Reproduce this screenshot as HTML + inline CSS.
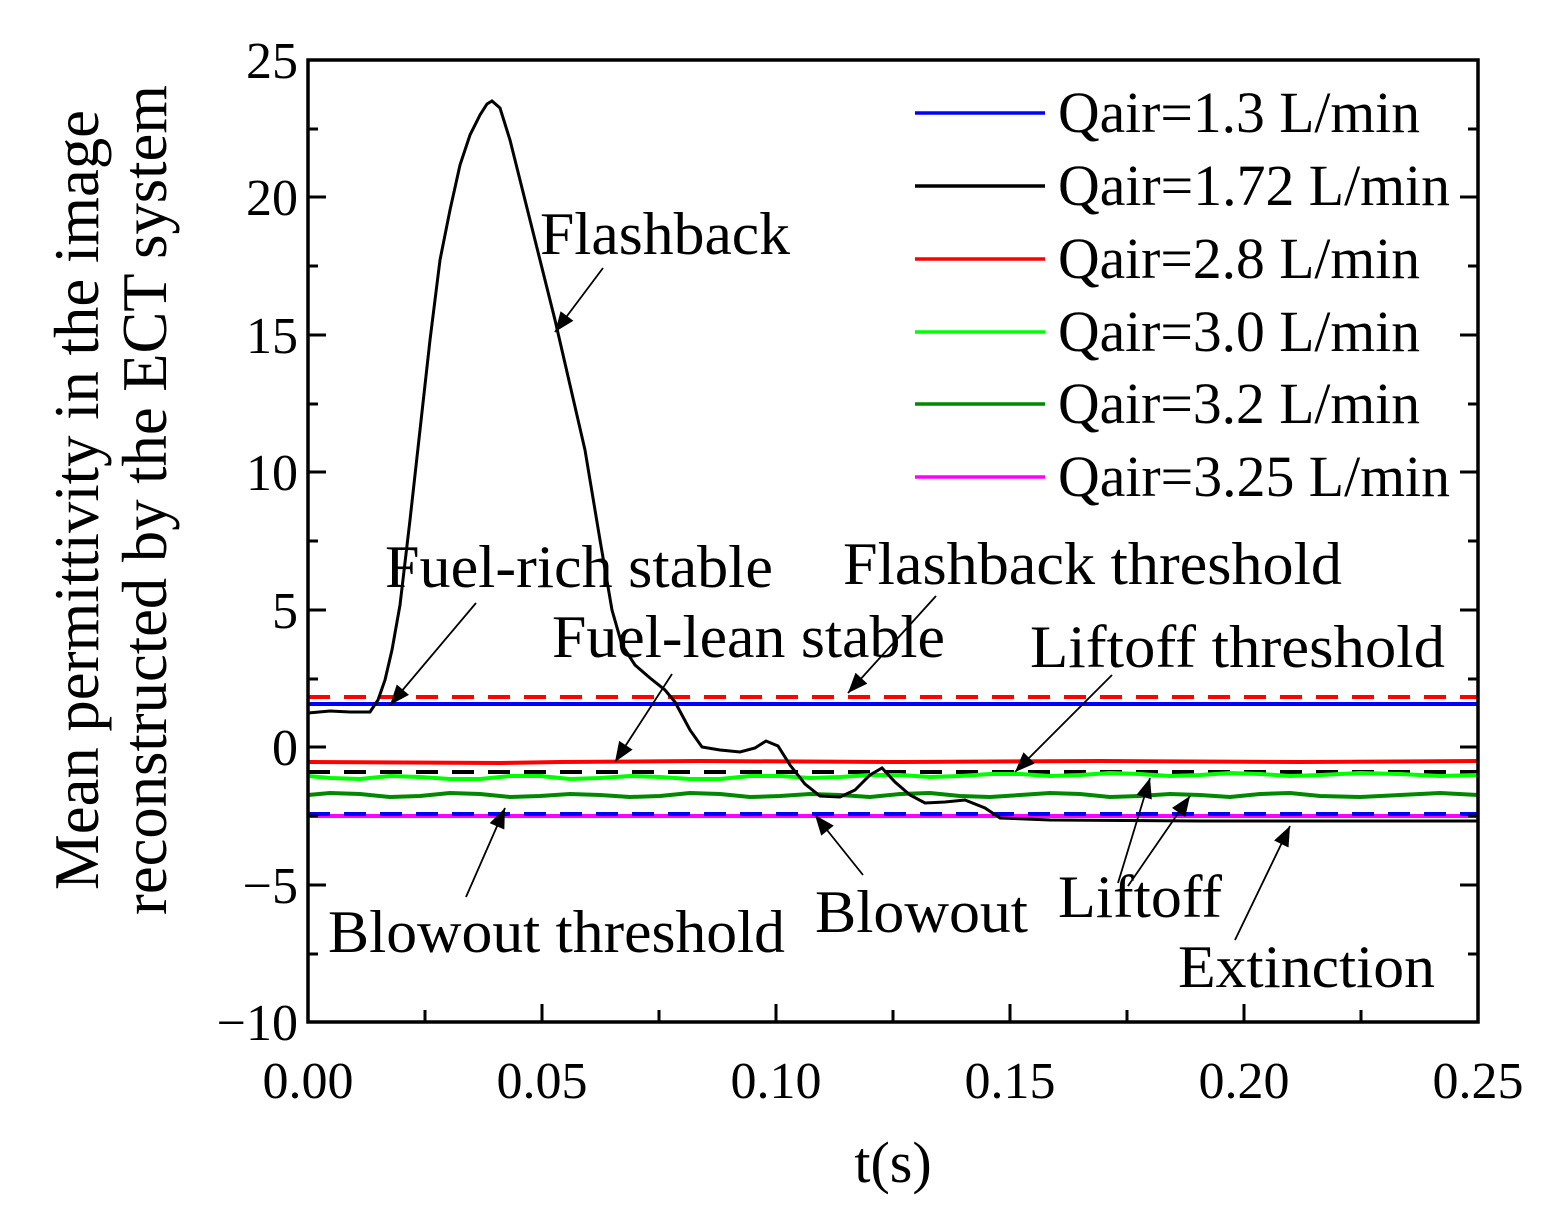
<!DOCTYPE html>
<html><head><style>body{margin:0;background:#fff}svg{display:block}text{font-family:"Liberation Serif",serif;fill:#000}</style></head><body>
<svg width="1550" height="1214" viewBox="0 0 1550 1214" xmlns="http://www.w3.org/2000/svg">
<defs>
<marker id="ahb" viewBox="0 0 10 8" markerWidth="22" markerHeight="16" refX="10" refY="4" orient="auto" markerUnits="userSpaceOnUse"><path d="M0,0 L10,4 L0,8 z" fill="#000"/></marker></defs>
<g fill="none" stroke-width="4">
<line x1="308" y1="697" x2="1478" y2="697" stroke="#f00" stroke-dasharray="22,14"/>
<line x1="308" y1="704" x2="1478" y2="704" stroke="#00f"/>
<polyline stroke="#f00" points="308,762 500,763 560,762 700,761 900,762 1100,761 1300,762 1478,761"/>
<line x1="308" y1="772" x2="1478" y2="772" stroke="#000" stroke-dasharray="22,14"/>
<polyline stroke="#0f0" points="308,776 330,778 360,779 390,776 420,777 450,779 480,779 510,776 540,776 570,779 600,778 630,776 660,777 690,779 720,779 750,776 780,776 810,778 840,777 870,775 900,775 930,777 960,776 990,774 1020,774 1050,776 1080,775 1110,773 1140,774 1170,776 1200,775 1230,773 1260,774 1290,776 1320,775 1360,773 1400,774 1440,776 1478,775"/>
<polyline stroke="#080" points="308,795 330,793 360,794 390,797 420,796 450,793 480,794 510,797 540,796 570,794 600,795 630,797 660,796 690,793 720,794 750,797 780,796 810,794 840,795 870,797 900,794 930,793 960,796 990,797 1020,795 1050,793 1080,794 1110,797 1140,796 1170,794 1200,795 1230,797 1260,794 1290,793 1320,796 1360,797 1400,795 1440,793 1478,795"/>
<line x1="308" y1="816" x2="1478" y2="816" stroke="#f0f"/>
<line x1="308" y1="814" x2="1478" y2="814" stroke="#00f" stroke-dasharray="22,14"/>
<polyline stroke="#000" stroke-width="3" points="308,713 330,711 350,712 370,712 378,700 385,680 392,650 400,605 410,520 420,430 430,340 440,260 450,210 460,165 470,135 480,115 487,104 492,101 500,108 510,140 520,180 530,220 540,260 555,320 570,385 585,450 600,540 612,610 622,645 635,665 650,678 665,690 675,702 690,730 702,747 720,750 740,752 755,748 766,741 778,746 790,765 805,784 820,796 840,797 855,790 870,775 882,768 895,782 910,795 925,803 945,802 965,800 985,808 1000,818 1050,820 1200,821 1478,821"/>
</g>
<rect x="308" y="60" width="1170" height="962" fill="none" stroke="#000" stroke-width="3.5"/>
<g stroke="#000" stroke-width="3">
<line x1="308" y1="60" x2="326" y2="60"/><line x1="308" y1="197" x2="326" y2="197"/><line x1="308" y1="335" x2="326" y2="335"/><line x1="308" y1="472" x2="326" y2="472"/><line x1="308" y1="610" x2="326" y2="610"/><line x1="308" y1="747" x2="326" y2="747"/><line x1="308" y1="885" x2="326" y2="885"/>
<line x1="308" y1="129" x2="318" y2="129"/><line x1="308" y1="266" x2="318" y2="266"/><line x1="308" y1="404" x2="318" y2="404"/><line x1="308" y1="541" x2="318" y2="541"/><line x1="308" y1="679" x2="318" y2="679"/><line x1="308" y1="816" x2="318" y2="816"/><line x1="308" y1="954" x2="318" y2="954"/>
<line x1="1478" y1="60" x2="1460" y2="60"/><line x1="1478" y1="197" x2="1460" y2="197"/><line x1="1478" y1="335" x2="1460" y2="335"/><line x1="1478" y1="472" x2="1460" y2="472"/><line x1="1478" y1="610" x2="1460" y2="610"/><line x1="1478" y1="747" x2="1460" y2="747"/><line x1="1478" y1="885" x2="1460" y2="885"/>
<line x1="1478" y1="129" x2="1468" y2="129"/><line x1="1478" y1="266" x2="1468" y2="266"/><line x1="1478" y1="404" x2="1468" y2="404"/><line x1="1478" y1="541" x2="1468" y2="541"/><line x1="1478" y1="679" x2="1468" y2="679"/><line x1="1478" y1="816" x2="1468" y2="816"/><line x1="1478" y1="954" x2="1468" y2="954"/>
<line x1="542" y1="1022" x2="542" y2="1004"/><line x1="776" y1="1022" x2="776" y2="1004"/><line x1="1010" y1="1022" x2="1010" y2="1004"/><line x1="1244" y1="1022" x2="1244" y2="1004"/>
<line x1="425" y1="1022" x2="425" y2="1010"/><line x1="659" y1="1022" x2="659" y2="1010"/><line x1="893" y1="1022" x2="893" y2="1010"/><line x1="1127" y1="1022" x2="1127" y2="1010"/><line x1="1361" y1="1022" x2="1361" y2="1010"/>
</g>
<g font-size="52" text-anchor="end">
<text x="298" y="78">25</text><text x="298" y="215">20</text><text x="298" y="353">15</text><text x="298" y="490">10</text><text x="298" y="628">5</text><text x="298" y="765">0</text><text x="298" y="903">−5</text><text x="298" y="1040">−10</text>
</g>
<g font-size="52" text-anchor="middle">
<text x="308" y="1098">0.00</text><text x="542" y="1098">0.05</text><text x="776" y="1098">0.10</text><text x="1010" y="1098">0.15</text><text x="1244" y="1098">0.20</text><text x="1478" y="1098">0.25</text>
<text x="893" y="1182" font-size="58">t(s)</text>
<text transform="translate(98,500) rotate(-90)" font-size="64" textLength="780" lengthAdjust="spacingAndGlyphs">Mean permittivity in the image</text>
<text transform="translate(166,500) rotate(-90)" font-size="64" textLength="830" lengthAdjust="spacingAndGlyphs">reconstructed by the ECT system</text>
</g>
<g stroke-width="3.5">
<line x1="915" y1="113" x2="1045" y2="113" stroke="#00f"/>
<line x1="915" y1="186" x2="1045" y2="186" stroke="#000"/>
<line x1="915" y1="259" x2="1045" y2="259" stroke="#f00"/>
<line x1="915" y1="332" x2="1045" y2="332" stroke="#0f0"/>
<line x1="915" y1="404" x2="1045" y2="404" stroke="#080"/>
<line x1="915" y1="477" x2="1045" y2="477" stroke="#f0f"/>
</g>
<g font-size="58">
<text x="1058" y="132" textLength="362" lengthAdjust="spacingAndGlyphs">Qair=1.3 L/min</text>
<text x="1058" y="205" textLength="392" lengthAdjust="spacingAndGlyphs">Qair=1.72 L/min</text>
<text x="1058" y="278" textLength="362" lengthAdjust="spacingAndGlyphs">Qair=2.8 L/min</text>
<text x="1058" y="351" textLength="362" lengthAdjust="spacingAndGlyphs">Qair=3.0 L/min</text>
<text x="1058" y="423" textLength="362" lengthAdjust="spacingAndGlyphs">Qair=3.2 L/min</text>
<text x="1058" y="496" textLength="392" lengthAdjust="spacingAndGlyphs">Qair=3.25 L/min</text>
</g>
<g font-size="60">
<text x="540" y="254" textLength="250" lengthAdjust="spacingAndGlyphs">Flashback</text>
<text x="385" y="587" textLength="388" lengthAdjust="spacingAndGlyphs">Fuel-rich stable</text>
<text x="843" y="584" textLength="499" lengthAdjust="spacingAndGlyphs">Flashback threshold</text>
<text x="552" y="657" textLength="393" lengthAdjust="spacingAndGlyphs">Fuel-lean stable</text>
<text x="1030" y="667" textLength="415" lengthAdjust="spacingAndGlyphs">Liftoff threshold</text>
<text x="328" y="952" textLength="457" lengthAdjust="spacingAndGlyphs">Blowout threshold</text>
<text x="815" y="932" textLength="213" lengthAdjust="spacingAndGlyphs">Blowout</text>
<text x="1058" y="917" textLength="164" lengthAdjust="spacingAndGlyphs">Liftoff</text>
<text x="1178" y="987" textLength="257" lengthAdjust="spacingAndGlyphs">Extinction</text>
</g>
<g stroke="#000" stroke-width="1.8" fill="none" marker-end="url(#ahb)">
<line x1="603" y1="268" x2="555" y2="332"/>
<line x1="476" y1="603" x2="390" y2="705"/>
<line x1="936" y1="596" x2="848" y2="693"/>
<line x1="672" y1="674" x2="615" y2="762"/>
<line x1="1112" y1="675" x2="1015" y2="772"/>
<line x1="466" y1="897" x2="505" y2="808"/>
<line x1="863" y1="875" x2="815" y2="815"/>
<line x1="1118" y1="883" x2="1150" y2="778"/>
<line x1="1128" y1="886" x2="1190" y2="796"/>
<line x1="1235" y1="940" x2="1290" y2="826"/>
</g>
</svg>
</body></html>
